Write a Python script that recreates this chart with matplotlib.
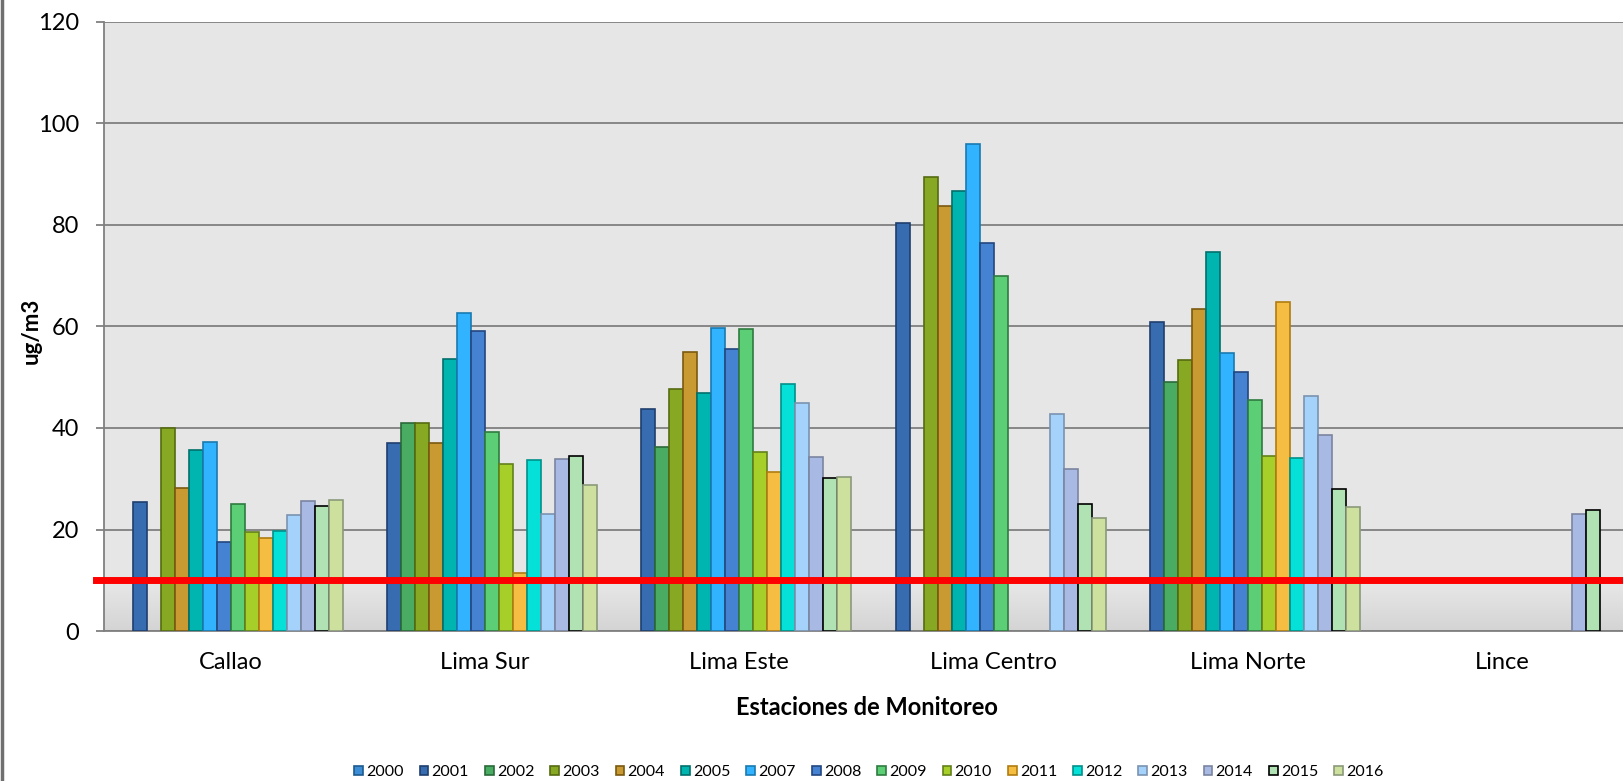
import numpy as np
import matplotlib
matplotlib.use("Agg")
import matplotlib.pyplot as plt
from matplotlib.patches import Patch
from matplotlib.lines import Line2D

# Datos: concentración promedio anual por estación (ug/m3), NaN = sin dato
estaciones = ["Callao", "Lima Sur", "Lima Este", "Lima Centro", "Lima Norte", "Lince"]
anios = ["2000", "2001", "2002", "2003", "2004", "2005", "2007", "2008",
         "2009", "2010", "2011", "2012", "2013", "2014", "2015", "2016"]
nan = np.nan

v2000 = [nan, nan, nan, nan, nan, nan]
v2001 = [25.4, 37.1, 43.7, 80.3, 60.8, nan]
v2002 = [nan, 41.0, 36.3, nan, 49.1, nan]
v2003 = [40.0, 41.0, 47.7, 89.4, 53.4, nan]
v2004 = [28.1, 37.0, 54.9, 83.8, 63.5, nan]
v2005 = [35.7, 53.6, 46.8, 86.7, 74.7, nan]
v2007 = [37.2, 62.7, 59.7, 95.9, 54.7, nan]
v2008 = [17.5, 59.2, 55.5, 76.5, 51.0, nan]
v2009 = [25.1, 39.3, 59.5, 69.9, 45.5, nan]
v2010 = [19.5, 32.9, 35.2, nan, 34.5, nan]
v2011 = [18.4, 11.4, 31.4, nan, 64.8, nan]
v2012 = [19.7, 33.7, 48.6, nan, 34.1, nan]
v2013 = [22.8, 23.0, 45.0, 42.8, 46.3, nan]
v2014 = [25.6, 33.9, 34.3, 31.9, 38.6, 23.0]
v2015 = [24.6, 34.5, 30.1, 25.1, 27.9, 23.8]
v2016 = [25.8, 28.7, 30.4, 22.2, 24.5, nan]

series = [v2000, v2001, v2002, v2003, v2004, v2005, v2007, v2008,
          v2009, v2010, v2011, v2012, v2013, v2014, v2015, v2016]

limite = 10  # valor guía (línea roja)

# Colores (relleno, borde) por año
relleno = ["#3b8ed6", "#386cb0", "#4aab62", "#87a823", "#c99a32", "#00b5b0",
           "#31b3ff", "#4682d2", "#5ccf76", "#a6cf2a", "#f5be42", "#05e0d8",
           "#a5d2fb", "#a8b9e4", "#b0e2b4", "#cde09e"]
borde = ["#1d5a8c", "#1f3f6f", "#2a6a3a", "#556b10", "#7a5a10", "#00706c",
         "#1a7ab0", "#22477f", "#2f7a40", "#62801a", "#b07d10", "#00908a",
         "#7a93b0", "#7a85a0", "#000000", "#8a9a7a"]

plt.rcParams['font.family'] = ['Lato', 'DejaVu Sans']

fig = plt.figure(figsize=(16.24, 7.81), dpi=100)
ax = fig.add_axes([0.0638, 0.192, 0.9395, 0.780])
ax.set_facecolor("#e6e6e6")

x = np.arange(len(estaciones))
ancho = 0.0551
n = len(anios)

# sombra suave en la base del área de trazado
grad = np.linspace(0, 1, 50).reshape(-1, 1)
ax.imshow(grad, extent=(-0.5, 5.5, 0, 9), origin="lower", aspect="auto",
          cmap=matplotlib.colors.LinearSegmentedColormap.from_list("g", ["#d4d4d4", "#e6e6e6"]),
          zorder=0.5)

for i in range(n):
    ax.bar(x + (i - (n - 1) / 2) * ancho, series[i], width=ancho,
           color=relleno[i], edgecolor=borde[i], linewidth=1.2, zorder=3)

# línea del valor guía
ax.axhline(limite, xmin=-0.005, xmax=1, color="#ff0000", lw=5, zorder=4, clip_on=False)

ax.set_xlim(-0.5, 5.5)
ax.set_ylim(0, 120)
ax.set_yticks(range(0, 121, 20))
ax.set_xticks(x)
ax.set_xticklabels(estaciones)
ax.yaxis.grid(True, color="#808080", lw=1.3, zorder=1)
ax.set_axisbelow(True)

for s in ["top", "right"]:
    ax.spines[s].set_visible(False)
for s in ["left", "bottom"]:
    ax.spines[s].set_color("#808080")
    ax.spines[s].set_linewidth(1.3)

ax.tick_params(axis="y", length=5.8, width=1.3, color="#808080", pad=12, labelsize=17)
ax.tick_params(axis="x", length=0, pad=15, labelsize=17)

ax.set_ylabel("ug/m3", fontsize=16, fontweight="bold")
ax.yaxis.set_label_coords(-0.0405, 0.492)
ax.set_xlabel("Estaciones de Monitoreo", fontsize=17, fontweight="bold")
ax.xaxis.set_label_coords(0.5, -0.106)

# leyenda
manejadores = [Patch(facecolor=relleno[i], edgecolor=borde[i], lw=1.2, label=anios[i])
               for i in range(n)]
fig.legend(handles=manejadores, loc="center", bbox_to_anchor=(0.535, 0.0115),
           ncol=n, frameon=False, fontsize=11.5, handlelength=0.55, handleheight=0.55,
           handletextpad=0.2, columnspacing=1.0, borderpad=0.2)

# borde izquierdo del marco del gráfico
fig.add_artist(Line2D([0.001, 0.001], [0, 1], color="#6f6f6f", lw=2.5))

fig.savefig("out.png", dpi=100)
